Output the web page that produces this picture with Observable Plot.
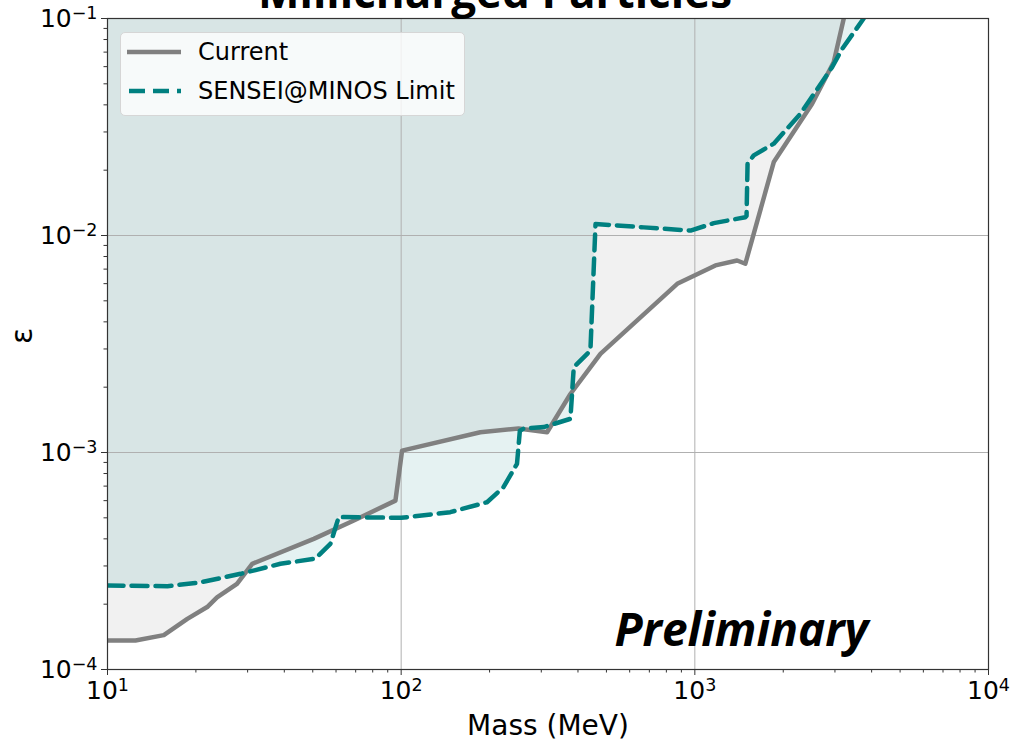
<!DOCTYPE html>
<html>
<head>
<meta charset="utf-8">
<script src="https://cdn.jsdelivr.net/npm/d3@7"></script>
<script src="https://cdn.jsdelivr.net/npm/@observablehq/plot@0.6"></script>
<style>
  html, body { margin: 0; padding: 0; background: white; }
  #wrap { position: relative; width: 1010px; height: 741px; overflow: hidden; background: white; }
  #title { position: absolute; left: 0; width: 990px; top: -31px; text-align: center;
           font-family: "Open Sans", sans-serif; font-weight: bold; font-size: 44px; line-height: 1; color: #000; }
  #legend { position: absolute; left: 120px; top: 32px; width: 345px; height: 84px; box-sizing: border-box;
            background: rgba(255,255,255,0.8); border: 1px solid #d6d6d6; border-radius: 5px;
            font-family: "DejaVu Sans", sans-serif; font-size: 24px; color: #000; }
  .row { position: absolute; left: 0; height: 30px; display: flex; align-items: center; }
  .row svg { margin-left: 6px; margin-right: 17px; }
</style>
</head>
<body>
<div id="wrap">
  <div id="chart"></div>
  <div id="title">Millicharged Particles</div>
  <div id="legend">
    <div class="row" style="top:4px"><svg width="54" height="10"><line x1="0" x2="54" y1="5" y2="5" stroke="#808080" stroke-width="4.5"/></svg><span>Current</span></div>
    <div class="row" style="top:43px"><svg width="54" height="10"><line x1="2" x2="54" y1="5" y2="5" stroke="#008080" stroke-width="4.5" stroke-dasharray="16,8"/></svg><span>SENSEI@MINOS Limit</span></div>
  </div>
</div>
<script>
// Current limit (gray solid)
const currentMass = [10, 12.45, 15.55, 18.7, 21.85, 23.6, 27.6, 31.1, 50.4, 69, 95.6, 100.7, 186, 251, 314, 377, 477, 871, 1175, 1393, 1486, 1857, 2506, 2972, 3215];
const currentEps  = [1.36e-4, 1.36e-4, 1.44e-4, 1.71e-4, 1.94e-4, 2.15e-4, 2.48e-4, 3.07e-4, 4.0e-4, 4.86e-4, 6.0e-4, 1.02e-3, 1.24e-3, 1.29e-3, 1.24e-3, 1.86e-3, 2.85e-3, 5.99e-3, 7.28e-3, 7.67e-3, 7.41e-3, 0.0218, 0.0404, 0.063, 0.1];

// SENSEI@MINOS projected limit (teal dashed)
const senseiMass = [10, 16, 20.7, 28.4, 38.8, 51, 57.4, 61.3, 100, 147, 196, 223, 248, 253.6, 261.6, 306, 377, 387, 441, 459, 670, 967, 1160, 1486, 1500, 1512, 1587, 1857, 2289, 2934, 3174, 3758];
const senseiEps  = [2.44e-4, 2.42e-4, 2.52e-4, 2.76e-4, 3.07e-4, 3.24e-4, 3.79e-4, 5.04e-4, 5.0e-4, 5.31e-4, 5.9e-4, 6.92e-4, 8.87e-4, 1.26e-3, 1.29e-3, 1.31e-3, 1.43e-3, 2.47e-3, 2.95e-3, 0.0113, 0.0109, 0.01054, 0.0114, 0.01214, 0.0123, 0.0214, 0.0234, 0.0265, 0.0364, 0.0597, 0.0724, 0.1];

const xMajor = [10, 100, 1000, 10000];
const yMajor = [1e-4, 1e-3, 1e-2, 1e-1];
const xMinor = [2,3,4,5,6,7,8,9].flatMap(k => [10, 100, 1000].map(d => k * d));
const yMinor = [2,3,4,5,6,7,8,9].flatMap(k => [1e-4, 1e-3, 1e-2].map(d => k * d));

const current = currentMass.map((m, i) => ({m, e: currentEps[i]}));
const sensei = senseiMass.map((m, i) => ({m, e: senseiEps[i]}));

const expFmt = v => "10^" + String(Math.round(Math.log10(v))).replace("-", "\u2212");

const chart = Plot.plot({
  width: 1010,
  height: 741,
  marginLeft: 107,
  marginRight: 22,
  marginTop: 18,
  marginBottom: 72,
  x: {type: "log", domain: [10, 1e4]},
  y: {type: "log", domain: [1e-4, 1e-1]},
  style: {fontFamily: "DejaVu Sans, sans-serif", fontSize: "24px", color: "#000", background: "white", overflow: "visible"},
  marks: [
    Plot.areaY(current, {x: "m", y1: "e", y2: 0.1, fill: "#808080", fillOpacity: 0.11}),
    Plot.areaY(sensei, {x: "m", y1: "e", y2: 0.1, fill: "#008080", fillOpacity: 0.1}),
    Plot.gridX(xMajor, {stroke: "#b0b0b0", strokeOpacity: 1, strokeWidth: 1}),
    Plot.gridY(yMajor, {stroke: "#b0b0b0", strokeOpacity: 1, strokeWidth: 1}),
    Plot.line(current, {x: "m", y: "e", stroke: "#808080", strokeWidth: 4.5, clip: true}),
    Plot.line(sensei, {x: "m", y: "e", stroke: "#008080", strokeWidth: 4.5, strokeDasharray: "16,8", clip: true}),
    Plot.axisX(xMinor, {tickSize: 3.5, tickFormat: () => "", label: null, stroke: "#333"}),
    Plot.axisY(yMinor, {tickSize: 3.5, tickFormat: () => "", label: null, stroke: "#333"}),
    Plot.axisX(xMajor, {tickSize: 6, tickPadding: 6, tickFormat: expFmt, fontSize: 25, stroke: "#333", label: null}),
    Plot.axisY(yMajor, {tickSize: 6, tickPadding: 4, tickFormat: expFmt, fontSize: 25, stroke: "#333", label: null}),
    Plot.frame({stroke: "#333", strokeWidth: 1.2}),
    Plot.text(["Mass (MeV)"], {frameAnchor: "bottom", dy: 57, lineAnchor: "middle", fontSize: 28, fill: "#000"}),
    Plot.text(["ε"], {frameAnchor: "left", dx: -85, rotate: -90, lineAnchor: "middle", fontSize: 30, fill: "#000"}),
    Plot.text(["Preliminary"], {frameAnchor: "bottom-right", dx: -120, dy: -24, textAnchor: "end", lineAnchor: "bottom",
      fontSize: 46, fontWeight: "bold", fontStyle: "italic", fontFamily: "Open Sans, sans-serif", fill: "#000"})
  ]
});

// Render tick labels as matplotlib-style base with raised exponent
chart.querySelectorAll("text").forEach(t => {
  const s = t.textContent;
  const m = /^10\^(.+)$/.exec(s);
  if (!m) return;
  const ns = "http://www.w3.org/2000/svg";
  while (t.firstChild) t.removeChild(t.firstChild);
  const base = document.createElementNS(ns, "tspan");
  base.textContent = "10";
  const ex = document.createElementNS(ns, "tspan");
  ex.setAttribute("dy", "-0.45em");
  ex.setAttribute("font-size", "0.7em");
  ex.textContent = m[1];
  t.appendChild(base);
  t.appendChild(ex);
});
document.getElementById("chart").appendChild(chart);
</script>
</body>
</html>
